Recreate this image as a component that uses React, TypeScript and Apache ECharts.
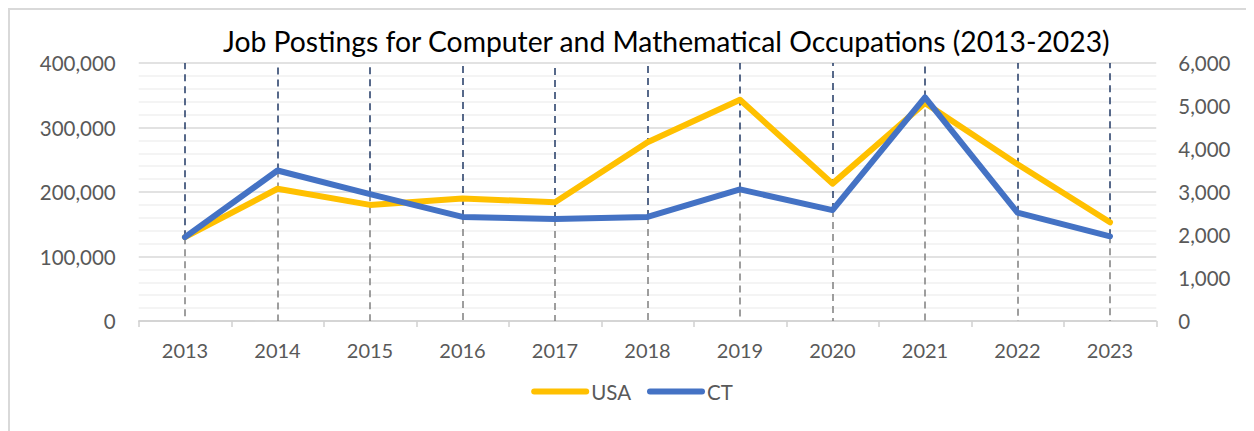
import React, { useEffect, useRef } from "react";
import * as echarts from "echarts";

const years = ["2013", "2014", "2015", "2016", "2017", "2018", "2019", "2020", "2021", "2022", "2023"];
const usa = [130000, 205000, 180000, 190000, 184000, 277000, 343000, 213000, 338000, 243000, 153000];
const ct = [1950, 3500, 2950, 2420, 2370, 2420, 3060, 2580, 5200, 2520, 1970];
const title = "Job Postings for Computer and Mathematical Occupations (2013-2023)";
const leftMax = 400000;
const leftInterval = 100000;
const rightMax = 6000;
const rightInterval = 1000;

const FONT = "Lato";

export default function App() {
  const ref = useRef<HTMLDivElement>(null);
  useEffect(() => {
    document.body.style.overflow = "hidden";
    const chart = echarts.init(ref.current!, null, { renderer: "svg" });
    const fmt = (v: number) => v.toLocaleString("en-US");
    const upper = years.map((y, i) => [
      { coord: [y, ct[i]], lineStyle: { color: "#203864", type: [7, 5], width: 1.5 } },
      { coord: [y, rightMax] },
    ]);
    const lower = years.map((y, i) => [
      { coord: [y, ct[i]], lineStyle: { color: "#7f7f7f", type: [7, 5], width: 1.5 } },
      { coord: [y, 0] },
    ]);
    const pill = "path://M3,0 L55,0 A3,3 0 0 1 55,6 L3,6 A3,3 0 0 1 3,0 Z";
    chart.setOption({
      animation: false,
      textStyle: { fontFamily: FONT },
      title: {
        text: title,
        left: 208,
        top: 12,
        textStyle: { fontFamily: FONT, fontSize: 28.3, fontWeight: "normal", color: "#000" },
      },
      legend: {
        data: [
          { name: "USA", icon: pill },
          { name: "CT", icon: pill },
        ],
        left: "center",
        top: 366,
        itemWidth: 58,
        itemHeight: 6,
        itemGap: 16,
        textStyle: { fontFamily: FONT, fontSize: 20.5, color: "#595959", padding: [0, 0, 0, -3] },
      },
      grid: { left: 128.75, right: 97.75, top: 53, bottom: 110 },
      xAxis: {
        type: "category",
        data: years,
        boundaryGap: true,
        axisLine: { lineStyle: { color: "#d0d0d0", width: 1.5 } },
        axisTick: { show: true, length: 6, lineStyle: { color: "#d0d0d0", width: 1.5 } },
        axisLabel: { fontFamily: FONT, fontSize: 20, color: "#595959", margin: 19 },
      },
      yAxis: [
        {
          type: "value",
          min: 0,
          max: leftMax,
          interval: leftInterval,
          axisLine: { show: false },
          axisTick: { show: false },
          axisLabel: { fontFamily: FONT, fontSize: 20.5, color: "#595959", margin: 23, formatter: fmt },
          splitLine: { lineStyle: { color: "#d9d9d9", width: 1.5 } },
          minorTick: { show: false, splitNumber: 5 },
          minorSplitLine: { show: true, lineStyle: { color: "#f0f0f0", width: 1.5 } },
        },
        {
          type: "value",
          min: 0,
          max: rightMax,
          interval: rightInterval,
          axisLine: { show: false },
          axisTick: { show: false },
          axisLabel: { fontFamily: FONT, fontSize: 20.5, color: "#595959", margin: 22, formatter: fmt },
          splitLine: { show: false },
        },
      ],
      series: [
        {
          name: "USA",
          type: "line",
          yAxisIndex: 0,
          data: usa,
          symbol: "none",
          color: "#FFC000",
          lineStyle: { color: "#FFC000", width: 6, cap: "round", join: "round" },
          z: 3,
        },
        {
          name: "CT",
          type: "line",
          yAxisIndex: 1,
          data: ct,
          symbol: "none",
          color: "#4472C4",
          lineStyle: { color: "#4472C4", width: 6, cap: "round", join: "round" },
          z: 4,
          markLine: {
            silent: true,
            symbol: ["none", "none"],
            label: { show: false },
            z: 2,
            data: [...upper, ...lower],
          },
        },
      ],
    });
    return () => chart.dispose();
  }, []);
  return (
    <div style={{ width: 1246, height: 423, borderTop: "2px solid #d9d9d9", borderLeft: "2px solid #d9d9d9", boxSizing: "border-box" }}>
      <div ref={ref} style={{ width: 1244, height: 421 }} />
    </div>
  );
}
